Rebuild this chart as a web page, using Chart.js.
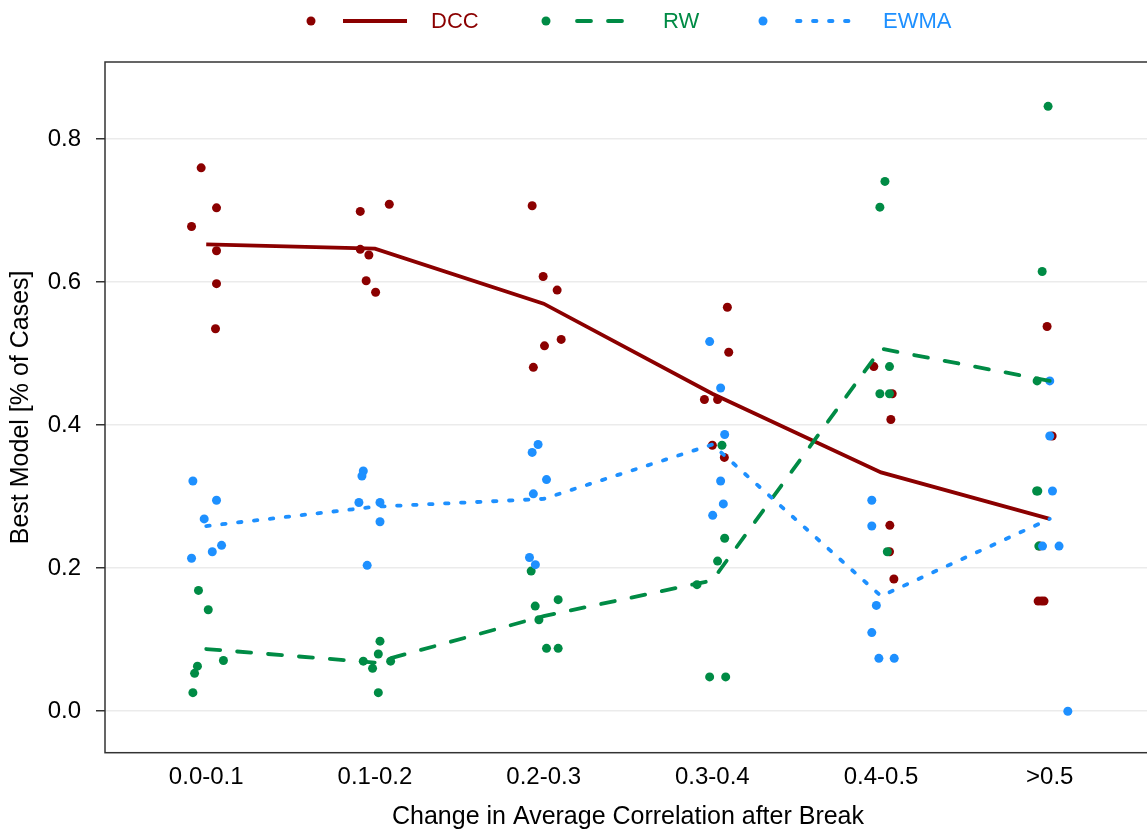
<!DOCTYPE html>
<html>
<head>
<meta charset="utf-8">
<title>Best Model by Change in Average Correlation</title>
<script src="https://cdn.jsdelivr.net/npm/chart.js@4.4.0/dist/chart.umd.min.js"></script>
<style>
  html, body { margin: 0; padding: 0; background: #fff; overflow: hidden; }
  #wrap { width: 1160px; height: 832px; }
</style>
</head>
<body>
<div id="wrap"><canvas id="chart"></canvas></div>
<script>
var categories = ['0.0-0.1', '0.1-0.2', '0.2-0.3', '0.3-0.4', '0.4-0.5', '>0.5'];
var yTicks = [0, 0.2, 0.4, 0.6, 0.8];

// average share of cases per break size
var dccMean  = [0.653, 0.647, 0.570, 0.444, 0.334, 0.269];
var rwMean   = [0.087, 0.068, 0.133, 0.183, 0.507, 0.462];
var ewmaMean = [0.259, 0.286, 0.297, 0.373, 0.161, 0.269];

// single cases, six per category, with their horizontal jitter
var dccCases = [
  [0.760, 0.704, 0.678, 0.644, 0.598, 0.535],
  [0.699, 0.709, 0.646, 0.638, 0.602, 0.586],
  [0.707, 0.608, 0.589, 0.520, 0.511, 0.481],
  [0.565, 0.502, 0.436, 0.436, 0.372, 0.355],
  [0.482, 0.444, 0.408, 0.260, 0.223, 0.185],
  [0.538, 0.385, 0.231, 0.154, 0.154, 0.154]
];
var dccJitter = [
  [-0.030, 0.061, -0.087, 0.061, 0.061, 0.055],
  [-0.087, 0.085, -0.087, -0.036, -0.052, 0.004],
  [-0.068, -0.003, 0.080, 0.104, 0.005, -0.061],
  [0.089, 0.097, -0.047, 0.031, 0.000, 0.071],
  [-0.043, 0.066, 0.058, 0.052, 0.050, 0.076],
  [-0.016, 0.014, -0.060, -0.069, -0.034, -0.050]
];
var rwCases = [
  [0.169, 0.142, 0.063, 0.053, 0.071, 0.026],
  [0.098, 0.080, 0.070, 0.070, 0.060, 0.026],
  [0.196, 0.156, 0.147, 0.128, 0.088, 0.088],
  [0.372, 0.242, 0.210, 0.177, 0.048, 0.048],
  [0.741, 0.705, 0.482, 0.444, 0.444, 0.223],
  [0.846, 0.615, 0.462, 0.308, 0.308, 0.231]
];
var rwJitter = [
  [-0.046, 0.012, -0.052, -0.069, 0.102, -0.079],
  [0.030, 0.020, -0.069, 0.093, -0.014, 0.020],
  [-0.074, 0.086, -0.050, -0.028, 0.017, 0.086],
  [0.057, 0.073, 0.031, -0.091, -0.016, 0.079],
  [0.023, -0.007, 0.050, -0.007, 0.050, 0.037],
  [-0.010, -0.045, -0.075, -0.071, -0.078, -0.065]
];
var ewmaCases = [
  [0.322, 0.295, 0.269, 0.214, 0.223, 0.232],
  [0.336, 0.329, 0.292, 0.292, 0.265, 0.204],
  [0.373, 0.362, 0.324, 0.304, 0.215, 0.205],
  [0.517, 0.452, 0.387, 0.322, 0.290, 0.274],
  [0.295, 0.259, 0.148, 0.110, 0.074, 0.074],
  [0.462, 0.385, 0.308, 0.231, 0.231, 0.000]
];
var ewmaJitter = [
  [-0.079, 0.061, -0.012, -0.087, 0.036, 0.091],
  [-0.069, -0.077, -0.095, 0.030, 0.030, -0.046],
  [-0.033, -0.068, 0.017, -0.061, -0.084, -0.049],
  [-0.016, 0.049, 0.073, 0.049, 0.065, 0.002],
  [-0.055, -0.055, -0.028, -0.055, -0.013, 0.078],
  [0.000, 0.000, 0.016, -0.043, 0.055, 0.107]
];

var DCC_COL = '#8B0000', RW_COL = '#008B45', EWMA_COL = '#1E90FF';
var FONT = '"Liberation Sans", Arial, sans-serif';
var TEXT_COL = '#000';

function meanPoints(arr) {
  return arr.map(function(v, i) { return { x: i + 1, y: v }; });
}
function casePoints(cases, jitter) {
  var out = [];
  cases.forEach(function(grp, i) {
    grp.forEach(function(v, j) {
      out.push({ x: i + 1 + jitter[i][j], y: v });
    });
  });
  return out;
}

function lineSet(label, data, color, dash, cap) {
  return {
    label: label, data: meanPoints(data), showLine: true,
    borderColor: color, borderWidth: 3.8, borderDash: dash,
    borderCapStyle: cap, pointRadius: 0, tension: 0
  };
}
function pointSet(label, cases, jitter, color) {
  return {
    label: label, data: casePoints(cases, jitter), showLine: false,
    backgroundColor: color, pointRadius: 4.5, pointBorderWidth: 0
  };
}

// panel frame plus a ggplot style legend on top
var decor = {
  id: 'decor',
  afterDraw: function(chart) {
    var ctx = chart.ctx, a = chart.chartArea;
    ctx.save();
    ctx.strokeStyle = '#333';
    ctx.lineWidth = 1.5;
    ctx.strokeRect(a.left, a.top, a.right - a.left, a.bottom - a.top);

    var y = 21;
    var items = [
      { text: 'DCC', col: DCC_COL, pt: 311, x0: 343, x1: 407, tx: 431, dash: [], cap: 'butt' },
      { text: 'RW', col: RW_COL, pt: 546, x0: 577, x1: 627, tx: 663, dash: [14, 17], cap: 'round' },
      { text: 'EWMA', col: EWMA_COL, pt: 763, x0: 797, x1: 852, tx: 883, dash: [3.5, 12.5], cap: 'round' }
    ];
    items.forEach(function(it) {
      ctx.fillStyle = it.col;
      ctx.beginPath();
      ctx.arc(it.pt, y, 4.5, 0, Math.PI * 2);
      ctx.fill();
      ctx.strokeStyle = it.col;
      ctx.lineWidth = 3.8;
      ctx.lineCap = it.cap;
      ctx.setLineDash(it.dash);
      ctx.beginPath();
      ctx.moveTo(it.x0, y);
      ctx.lineTo(it.x1, y);
      ctx.stroke();
      ctx.setLineDash([]);
      ctx.font = '22px ' + FONT;
      ctx.textBaseline = 'middle';
      ctx.textAlign = 'left';
      ctx.fillText(it.text, it.tx, y + 1);
    });
    ctx.restore();
  }
};

var ctx = document.getElementById('chart');
new Chart(ctx, {
  type: 'scatter',
  data: {
    datasets: [
      lineSet('EWMA', ewmaMean, EWMA_COL, [3.5, 12.5], 'round'),
      lineSet('RW', rwMean, RW_COL, [14, 17], 'round'),
      lineSet('DCC', dccMean, DCC_COL, [], 'butt'),
      pointSet('EWMA cases', ewmaCases, ewmaJitter, EWMA_COL),
      pointSet('RW cases', rwCases, rwJitter, RW_COL),
      pointSet('DCC cases', dccCases, dccJitter, DCC_COL)
    ]
  },
  options: {
    responsive: true,
    maintainAspectRatio: false,
    animation: false,
    layout: { padding: { top: 62, right: 9, left: 0, bottom: 0 } },
    plugins: {
      legend: { display: false },
      tooltip: { enabled: false }
    },
    scales: {
      x: {
        type: 'linear',
        min: 0.4,
        max: 6.6,
        afterBuildTicks: function(s) {
          s.ticks = categories.map(function(c, i) { return { value: i + 1 }; });
        },
        afterFit: function(s) { s.height = 79.3; },
        grid: { display: false, drawTicks: false },
        border: { display: false },
        ticks: {
          autoSkip: false, maxRotation: 0, padding: 10,
          color: TEXT_COL, font: { family: FONT, size: 24 },
          callback: function(v) { return categories[Math.round(v) - 1]; }
        },
        title: {
          display: true, text: 'Change in Average Correlation after Break',
          color: TEXT_COL, font: { family: FONT, size: 25 },
          padding: { top: 0, bottom: 0 }
        }
      },
      y: {
        type: 'linear',
        min: -0.058,
        max: 0.908,
        afterBuildTicks: function(s) {
          s.ticks = yTicks.map(function(v) { return { value: v }; });
        },
        afterFit: function(s) { s.width = 105; },
        grid: { color: '#EBEBEB', lineWidth: 1.5, tickColor: '#333', tickLength: 9, drawTicks: true },
        border: { display: false },
        ticks: {
          padding: 15, color: TEXT_COL, font: { family: FONT, size: 24 },
          callback: function(v) { return v.toFixed(1); }
        },
        title: {
          display: true, text: 'Best Model [% of Cases]',
          color: TEXT_COL, font: { family: FONT, size: 25 },
          padding: { top: 6, bottom: 0 }
        }
      }
    }
  },
  plugins: [decor]
});
</script>
</body>
</html>
